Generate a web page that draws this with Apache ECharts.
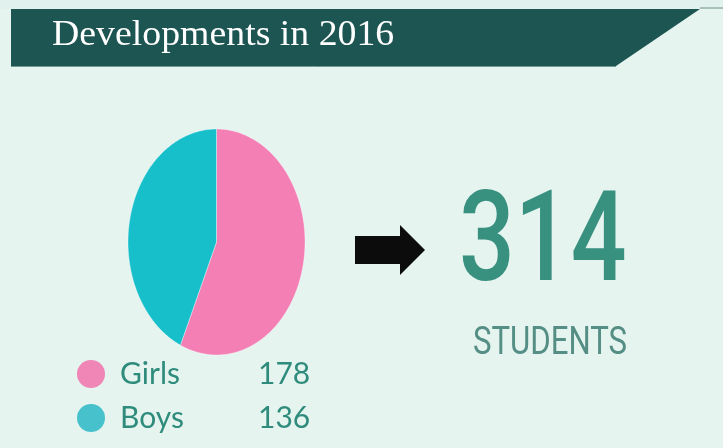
<!DOCTYPE html>
<html>
<head>
<meta charset="utf-8">
<script src="https://cdn.jsdelivr.net/npm/echarts@6/dist/echarts.min.js"></script>
<style>
  html, body { margin: 0; padding: 0; background: #e5f4ef; }
  #chart { width: 723px; height: 448px; }
</style>
</head>
<body>
<div id="chart"></div>
<script>
const title = "Developments in 2016";
const categories = ["Girls", "Boys"];
const counts = [178, 136];
const sliceColors = ["#f37fb5", "#17bfcb"];
const legendColors = ["#ef86b6", "#47c1cc"];
const totalLabel = "STUDENTS";

const total = counts.reduce((a, b) => a + b, 0);
const chart = echarts.init(document.getElementById("chart"));

// ellipse pie (stretched vertically), drawn from the counts
const pieCx = 216.5, pieCy = 242, pieRx = 88.5, pieRy = 113;

function wedge(index) {
  return function (params, api) {
    const before = counts.slice(0, index).reduce((a, b) => a + b, 0);
    const start = (before / total) * 360;
    const end = ((before + api.value(0)) / total) * 360;
    const pts = [[pieCx, pieCy]];
    const steps = Math.max(2, Math.ceil(end - start));
    for (let k = 0; k <= steps; k++) {
      const a = ((start + (end - start) * k / steps) * Math.PI) / 180;
      pts.push([pieCx + pieRx * Math.sin(a), pieCy - pieRy * Math.cos(a)]);
    }
    return {
      type: "polygon",
      shape: { points: pts },
      style: { fill: api.visual("color"), stroke: "rgba(255,255,255,0.35)", lineWidth: 1 },
    };
  };
}

chart.setOption({
  backgroundColor: "#e5f4ef",
  animation: false,
  legend: {
    orient: "vertical",
    left: 72,
    top: 354,
    icon: "circle",
    itemWidth: 28,
    itemHeight: 28,
    itemGap: 14,
    selectedMode: false,
    data: categories.map((name, i) => ({ name, itemStyle: { color: legendColors[i] } })),
    formatter: (name) => `{n|${name}}{v|${counts[categories.indexOf(name)]}}`,
    textStyle: {
      padding: [0, 0, 0, 10],
      rich: {
        n: { width: 138, fontFamily: "Lato", fontSize: 30, color: "#2f8c7c", lineHeight: 30 },
        v: { fontFamily: "Lato", fontSize: 30, color: "#2f8c7c", lineHeight: 30 },
      },
    },
  },
  graphic: [
    { type: "rect", shape: { x: 0, y: 0, width: 723, height: 9 }, style: { fill: "#e1f2ee" }, z: -1 },
    { type: "line", shape: { x1: 700, y1: 8, x2: 723, y2: 8 }, style: { stroke: "#a9bfba", lineWidth: 2 } },
    {
      type: "polygon",
      shape: { points: [[11, 9], [700, 9], [616, 66], [11, 66]] },
      style: { fill: "#1d5553" },
    },
    { type: "line", shape: { x1: 11, y1: 66.5, x2: 616, y2: 66.5 }, style: { stroke: "#6f9994", lineWidth: 1 } },
    {
      type: "text",
      x: 52,
      y: 18,
      scaleX: 1.08,
      style: { text: title, fill: "#ffffff", font: "35px 'Liberation Serif'" },
    },
    {
      type: "polygon",
      shape: { points: [[355, 236], [400, 236], [400, 225], [425, 250], [400, 275], [400, 264], [355, 264]] },
      style: { fill: "#0c0c0c" },
    },
    {
      type: "text",
      x: 459,
      y: 185,
      scaleX: 0.78,
      style: { text: String(total), fill: "#38907f", font: "500 126px Roboto" },
    },
    {
      type: "text",
      x: 473,
      y: 325,
      scaleX: 0.82,
      style: { text: totalLabel, fill: "#558e85", font: "38px Roboto" },
    },
  ],
  series: categories.map((name, i) => ({
    type: "custom",
    name,
    coordinateSystem: "none",
    itemStyle: { color: sliceColors[i] },
    renderItem: wedge(i),
    data: [[counts[i]]],
  })),
});
</script>
</body>
</html>
